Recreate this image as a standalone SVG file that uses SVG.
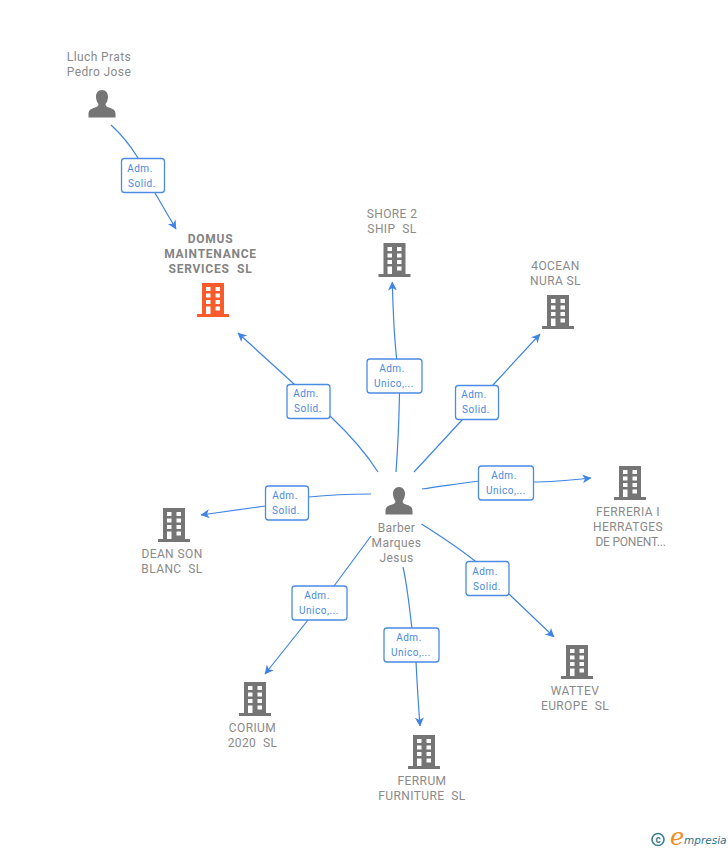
<svg xmlns="http://www.w3.org/2000/svg" width="728" height="850" viewBox="0 0 728 850">
<style>
text{font-family:"Roboto","Liberation Sans",sans-serif;font-size:12px;fill:#8a8a8a;text-anchor:middle;letter-spacing:.4px;white-space:pre}
.b{font-weight:700;fill:#838383;letter-spacing:.75px}
.l text{fill:#4a88e2;font-size:10px;letter-spacing:.5px}
.l rect{fill:#fff;stroke:#4b8be4;stroke-width:1.3}
#connectors path{fill:none;stroke:#3f84e5;stroke-width:1.2}
#connectors path.e{marker-end:url(#a)}
</style>
<defs>
<marker id="a" markerUnits="userSpaceOnUse" markerWidth="12" markerHeight="12" refX="8.500" refY="4.500" orient="auto"><path d="M0 0L9 4.500L0 9L2.500 4.500Z" fill="#3f84e5"/></marker>
<symbol id="bld" viewBox="0 0 32 34" overflow="visible"><path fill-rule="evenodd" d="M5 0H27V31H32V34H0V31H5ZM9 4V8H13.500V4ZM18.500 4V8H23V4ZM9 10.500V14.500H13.500V10.500ZM18.500 10.500V14.500H23V10.500ZM9 17V21H13.500V17ZM18.500 17V21H23V17ZM9 23.500V31H13.500V23.500ZM18.500 23.500V27.500H23V23.500Z"/></symbol>
<symbol id="per" viewBox="0 0 28 28" overflow="visible"><path d="M14 0C18 0 20.300 3.500 20 7.500C19.800 10.500 18.500 12.800 17.500 14.300C17.500 16 18.800 16.800 21 17.500C24.500 18.600 27.500 19.800 27.500 24V27.500H.5V24C.5 19.800 3.500 18.600 7 17.500C9.200 16.800 10.500 16 10.500 14.300C9.500 12.800 8.200 10.500 8 7.500C7.700 3.500 10 0 14 0Z"/></symbol>
</defs>
<g id="connectors">
<path class="e" d="M111 125C121 134 130 145 138 158L155 193L176 229"/>
<path class="e" d="M378 472C364 450 348 433 330 416L294 384L238 333"/>
<path class="e" d="M396 472C398 445 399 420 399.500 393L396.700 359C394 335 393 310 392.300 282"/>
<path class="e" d="M414 472L462 420L493 385L540 334"/>
<path class="e" d="M422 489C445 486 460 483 480 481L533 482C552 482 572 480 591 478"/>
<path class="e" d="M421.500 524C442 537 460 549 475 561L510 595L554 637"/>
<path class="e" d="M403 567C406 580 407 590 408.500 600L416 662C417 680 418 700 420 726"/>
<path class="e" d="M371 536L334 586L308 620L265 674"/>
<path class="e" d="M371 494C350 494 328 495 309 497L265 506L201 515"/>
</g>
<g id="n-lluch"><text x="99" y="61">Lluch Prats</text><text x="99" y="76">Pedro Jose</text><use href="#per" x="88" y="90" width="28" height="28" fill="#757575"/></g>
<g id="n-domus"><text class="b" x="210.500" y="243">DOMUS</text><text class="b" x="210.500" y="258">MAINTENANCE</text><text class="b" x="210.500" y="273">SERVICES  SL</text><use href="#bld" x="197" y="283" width="32" height="34" fill="#fb5a2b"/></g>
<g id="n-shore"><text x="392" y="218">SHORE 2</text><text x="392" y="233">SHIP  SL</text><use href="#bld" x="378.500" y="243" width="32" height="34" fill="#757575"/></g>
<g id="n-4ocean"><text x="555.500" y="270">4OCEAN</text><text x="555.500" y="285">NURA SL</text><use href="#bld" x="542" y="295" width="32" height="34" fill="#757575"/></g>
<g id="n-ferreria"><text x="628" y="516">FERRERIA I</text><text x="628" y="531">HERRATGES</text><text x="630.500" y="546" style="letter-spacing:-.2px">DE PONENT...</text><use href="#bld" x="614" y="466" width="32" height="34" fill="#757575"/></g>
<g id="n-wattev"><text x="575" y="695">WATTEV</text><text x="575" y="710">EUROPE  SL</text><use href="#bld" x="561" y="645" width="32" height="34" fill="#757575"/></g>
<g id="n-ferrum"><text x="422" y="785">FERRUM</text><text x="422" y="800">FURNITURE  SL</text><use href="#bld" x="408" y="735" width="32" height="34" fill="#757575"/></g>
<g id="n-corium"><text x="252.500" y="732">CORIUM</text><text x="252.500" y="747">2020  SL</text><use href="#bld" x="239" y="682" width="32" height="34" fill="#757575"/></g>
<g id="n-dean"><text x="172" y="558">DEAN SON</text><text x="172" y="573">BLANC  SL</text><use href="#bld" x="158" y="508" width="32" height="34" fill="#757575"/></g>
<g id="n-barber"><use href="#per" x="385" y="487" width="28" height="28" fill="#757575"/><text x="396.500" y="532">Barber</text><text x="396.500" y="547">Marques</text><text x="396.500" y="562">Jesus</text></g>
<g class="l" id="l1"><rect x="121.500" y="158.500" width="43" height="34" rx="3"/><text x="140" y="172">Adm.</text><text x="142" y="187">Solid.</text></g>
<g class="l" id="l2"><rect x="287" y="384.500" width="43" height="34" rx="3"/><text x="306" y="397">Adm.</text><text x="308" y="412">Solid.</text></g>
<g class="l" id="l3"><rect x="367" y="359" width="55" height="34" rx="3"/><text x="392" y="372">Adm.</text><text x="394" y="387">Unico,...</text></g>
<g class="l" id="l4"><rect x="455.500" y="385.500" width="43" height="34" rx="3"/><text x="474" y="398">Adm.</text><text x="476" y="413">Solid.</text></g>
<g class="l" id="l5"><rect x="478.500" y="466" width="55" height="34" rx="3"/><text x="504" y="479">Adm.</text><text x="506" y="494">Unico,...</text></g>
<g class="l" id="l6"><rect x="466" y="561.500" width="43" height="34" rx="3"/><text x="485" y="575">Adm.</text><text x="487" y="590">Solid.</text></g>
<g class="l" id="l7"><rect x="384" y="628" width="55" height="34" rx="3"/><text x="409" y="641">Adm.</text><text x="411" y="656">Unico,...</text></g>
<g class="l" id="l8"><rect x="292" y="586" width="55" height="34" rx="3"/><text x="317" y="599">Adm.</text><text x="319" y="614">Unico,...</text></g>
<g class="l" id="l9"><rect x="265.500" y="486" width="43" height="34" rx="3"/><text x="285" y="499">Adm.</text><text x="286" y="514">Solid.</text></g>
<g id="brand"><circle cx="658" cy="839.500" r="6" fill="none" stroke="#3d7f95" stroke-width="1.600"/><text x="658" y="842.800" style="font-size:10px;font-weight:700;fill:#3d7f95;letter-spacing:0">c</text><text x="677" y="845" style="font-family:'DejaVu Serif',serif;font-style:italic;font-size:24px;fill:#f58a1f;letter-spacing:0">e</text><text x="684" y="844" style="font-family:'DejaVu Sans',sans-serif;font-style:italic;font-size:10.500px;fill:#2f7088;letter-spacing:0;text-anchor:start">mpresia</text></g>
</svg>
